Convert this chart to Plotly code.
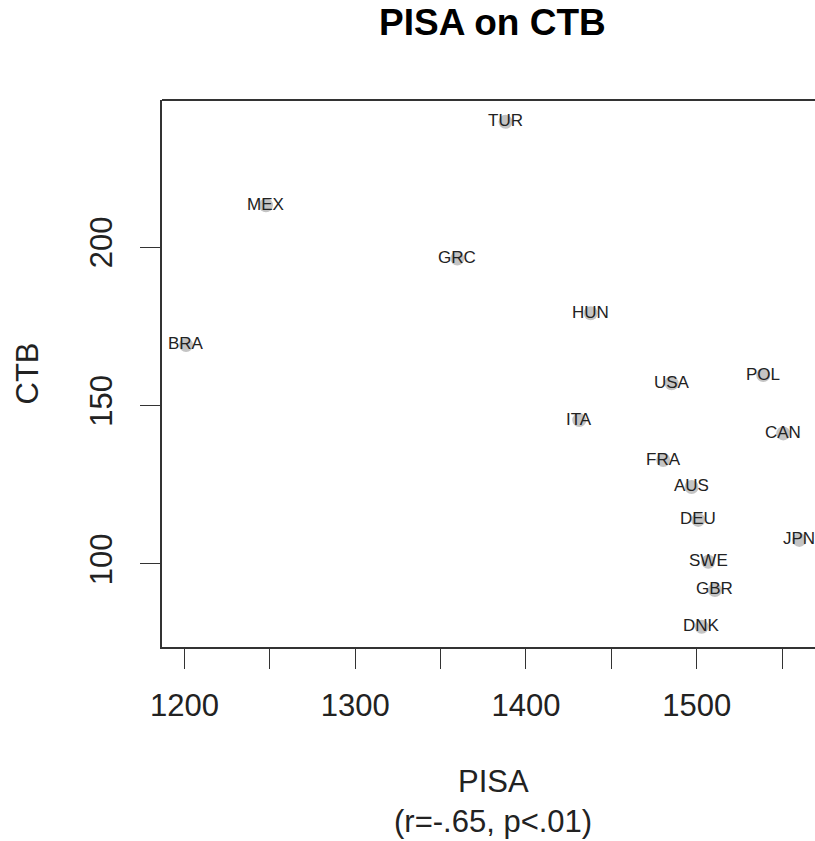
import plotly.graph_objects as go

countries = ["TUR", "MEX", "GRC", "BRA", "HUN", "USA", "POL", "ITA", "CAN",
             "FRA", "AUS", "DEU", "JPN", "SWE", "GBR", "DNK"]
pisa = [1388.0, 1247.7, 1359.8, 1200.9, 1437.9, 1485.3, 1539.0, 1431.2, 1550.7,
        1480.4, 1497.0, 1500.9, 1560.1, 1506.8, 1510.7, 1502.9]
ctb = [239.5, 213.2, 196.4, 169.1, 179.1, 157.0, 159.6, 145.4, 141.2,
       132.8, 124.3, 113.9, 107.6, 100.7, 91.8, 80.2]

x_tickvals = [1200, 1250, 1300, 1350, 1400, 1450, 1500, 1550]
x_ticktext = ["1200", "", "1300", "", "1400", "", "1500", ""]
y_tickvals = [100, 150, 200]
y_ticktext = ["100", "150", "200"]

FONT = "Liberation Sans, Arial, sans-serif"
INK = "#222222"

fig = go.Figure()
fig.add_trace(go.Scatter(
    x=pisa, y=ctb, mode="markers",
    marker=dict(size=14, color="#c4c4c4", line=dict(width=0)),
    hoverinfo="skip", showlegend=False,
))

label_annots = [
    dict(text=c, x=px, y=py, xref="x", yref="y", showarrow=False,
         xanchor="center", yanchor="middle", yshift=1,
         font=dict(family=FONT, size=17, color=INK))
    for c, px, py in zip(countries, pisa, ctb)
]

fig.update_layout(
    width=815, height=841,
    margin=dict(l=162, r=0, t=100, b=194, pad=0),
    paper_bgcolor="white", plot_bgcolor="white",
    font=dict(family=FONT, color=INK),
    xaxis=dict(
        range=[1186.8, 1569.3], autorange=False,
        tickvals=x_tickvals, ticktext=x_ticktext,
        ticks="outside", ticklen=20, tickwidth=1.3, tickcolor="#333",
        showline=True, linecolor="#333", linewidth=2,
        showgrid=False, zeroline=False,
        tickfont=dict(family=FONT, size=31, color=INK),
        ticklabelstandoff=10,
    ),
    yaxis=dict(
        range=[73.8, 246.4], autorange=False,
        tickvals=y_tickvals, ticktext=y_ticktext,
        ticks="outside", ticklen=20, tickwidth=1.3, tickcolor="#333",
        showline=True, linecolor="#333", linewidth=2,
        showgrid=False, zeroline=False, tickangle=-90,
        tickfont=dict(family=FONT, size=31, color=INK),
        ticklabelstandoff=16,
    ),
    shapes=[dict(type="line", xref="paper", yref="paper", x0=0, x1=1, y0=1, y1=1,
                 line=dict(color="#333", width=2))],
    annotations=label_annots + [
        dict(text="<b>PISA on CTB</b>", xref="paper", yref="paper", x=0, y=1,
             xanchor="center", yanchor="middle", xshift=330, yshift=78,
             showarrow=False, font=dict(family=FONT, size=37, color="black")),
        dict(text="PISA", xref="paper", yref="paper", x=0, y=0,
             xanchor="center", yanchor="middle", xshift=331, yshift=-134,
             showarrow=False, font=dict(family=FONT, size=31, color=INK)),
        dict(text="(r=-.65, p<.01)", xref="paper", yref="paper", x=0, y=0,
             xanchor="center", yanchor="middle", xshift=331, yshift=-174,
             showarrow=False, font=dict(family=FONT, size=31, color=INK)),
        dict(text="CTB", xref="paper", yref="paper", x=0, y=0.5,
             xanchor="center", yanchor="middle", xshift=-135, textangle=-90,
             showarrow=False, font=dict(family=FONT, size=31, color=INK)),
    ],
)

fig.write_html("out.html")
